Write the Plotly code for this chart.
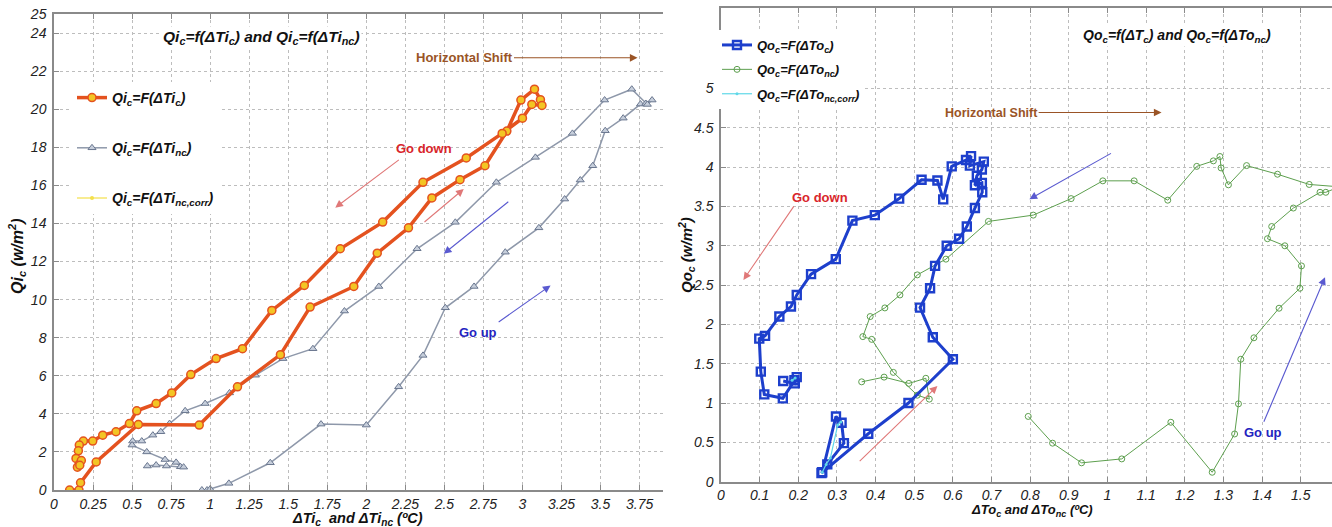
import plotly.graph_objects as go

# ---------------- Left panel data (Qi_c vs dTi) ----------------
dTi_c = [0.10, 0.16, 0.17, 0.27, 0.54, 0.93, 1.175, 1.45, 1.64, 1.92, 2.07, 2.27, 2.42, 2.60, 2.76, 2.90,
         2.99, 3.077, 3.115, 3.125, 3.06, 3.00, 2.87, 2.64, 2.363, 2.105, 1.833, 1.603, 1.395, 1.207, 1.038,
         0.876, 0.754, 0.654, 0.53, 0.483, 0.397, 0.312, 0.248, 0.188, 0.162, 0.156, 0.141, 0.162, 0.175,
         0.15, 0.165]
Qi_c = [0.0, 0.0, 0.38, 1.47, 3.44, 3.41, 5.42, 7.11, 9.61, 10.69, 12.44, 13.77, 15.34, 16.30, 17.03, 18.85,
        20.48, 21.05, 20.50, 20.20, 20.25, 19.53, 18.73, 17.44, 16.16, 14.07, 12.67, 10.74, 9.43, 7.42, 6.90,
        6.06, 5.10, 4.54, 4.16, 3.49, 3.06, 2.88, 2.57, 2.57, 2.36, 2.06, 1.66, 1.35, 1.55, 1.20, 1.30]

dTi_nc = [0.947, 0.98, 1.0, 1.12, 1.385, 1.71, 2.0, 2.207, 2.363, 2.506, 2.69, 2.89, 3.105, 3.27, 3.37, 3.45,
          3.53, 3.645, 3.756, 3.79, 3.83, 3.80, 3.70, 3.526, 3.32, 3.083, 2.833, 2.57, 2.325, 2.08, 1.86,
          1.658, 1.466, 1.29, 1.124, 0.968, 0.84, 0.74, 0.684, 0.633, 0.562, 0.504, 0.50, 0.594, 0.711,
          0.782, 0.81, 0.83, 0.72, 0.654, 0.598]
Qi_nc = [0.0, 0.0, 0.05, 0.35, 1.43, 3.46, 3.41, 5.42, 7.07, 9.57, 10.69, 12.49, 13.77, 15.28, 16.28, 17.03,
         18.87, 19.53, 20.27, 20.30, 20.48, 20.25, 21.05, 20.48, 18.73, 17.47, 16.16, 14.06, 12.67, 10.69, 9.40,
         7.42, 6.90, 6.03, 5.10, 4.54, 4.16, 3.49, 3.06, 2.88, 2.57, 2.57, 2.36, 2.00, 1.60,
         1.45, 1.22, 1.20, 1.26, 1.31, 1.26]

# corrected series coincides with the dTi_c curve
dTi_nc_corr = dTi_c
Qi_nc_corr = Qi_c

# ---------------- Right panel data (Qo_c vs dTo) ----------------
dTo_c = [0.262, 0.2975, 0.312, 0.318, 0.275, 0.26, 0.381, 0.485, 0.60, 0.548, 0.515, 0.541, 0.554, 0.584,
         0.616, 0.636, 0.657, 0.676, 0.675, 0.657, 0.662, 0.675, 0.68, 0.644, 0.647, 0.634, 0.597, 0.575,
         0.56, 0.519, 0.461, 0.398, 0.34, 0.297, 0.233, 0.196, 0.181, 0.151, 0.114, 0.099, 0.103, 0.112,
         0.16, 0.19, 0.196, 0.191, 0.161]
Qo_c = [0.12, 0.83, 0.75, 0.49, 0.22, 0.11, 0.61, 1.0, 1.557, 1.837, 2.214, 2.46, 2.744, 3.0,
        3.09, 3.245, 3.48, 3.68, 3.80, 3.77, 3.89, 3.97, 4.07, 4.02, 4.14, 4.09, 4.01, 3.59,
        3.83, 3.84, 3.60, 3.39, 3.32, 2.83, 2.64, 2.375, 2.227, 2.10, 1.855, 1.82, 1.40, 1.11,
        1.06, 1.29, 1.33, 1.25, 1.28]

dTo_nc = [0.795, 0.858, 0.933, 1.037, 1.164, 1.271, 1.329, 1.339, 1.345, 1.379, 1.444, 1.498, 1.502, 1.459,
          1.414, 1.425, 1.481, 1.55, 1.565, 1.60, 1.522, 1.44, 1.36, 1.313, 1.294, 1.291, 1.274, 1.231,
          1.156, 1.069, 0.988, 0.906, 0.808, 0.692, 0.582, 0.508, 0.463, 0.424, 0.386, 0.367, 0.39, 0.446,
          0.508, 0.539, 0.53, 0.486, 0.422, 0.364]
Qo_nc = [0.83, 0.49, 0.24, 0.29, 0.756, 0.12, 0.607, 0.99, 1.557, 1.83, 2.206, 2.46, 2.744, 3.0,
         3.09, 3.245, 3.48, 3.68, 3.68, 3.75, 3.78, 3.91, 4.02, 3.775, 3.99, 4.135, 4.08, 4.01,
         3.58, 3.826, 3.826, 3.60, 3.39, 3.31, 2.83, 2.63, 2.375, 2.21, 2.10, 1.845, 1.81, 1.39,
         1.10, 1.05, 1.315, 1.25, 1.33, 1.27]

dTo_nc_corr = [0.262, 0.272, 0.283, 0.302, 0.31, None, 0.184, 0.192]
Qo_nc_corr = [0.12, 0.22, 0.30, 0.72, 0.76, None, 1.29, 1.32]

# ---------------- Ticks ----------------
left_xticks = [0, 0.25, 0.5, 0.75, 1, 1.25, 1.5, 1.75, 2, 2.25, 2.5, 2.75, 3, 3.25, 3.5, 3.75]
left_xtext = ["0", "0.25", "0.5", "0.75", "1", "1.25", "1.5", "1.75", "2", "2.25", "2.5", "2.75", "3",
              "3.25", "3.5", "3.75"]
left_yticks = [0, 2, 4, 6, 8, 10, 12, 14, 16, 18, 20, 22, 24, 25]
right_xticks = [0, 0.1, 0.2, 0.3, 0.4, 0.5, 0.6, 0.7, 0.8, 0.9, 1, 1.1, 1.2, 1.3, 1.4, 1.5]
right_xtext = ["0", "0.1", "0.2", "0.3", "0.4", "0.5", "0.6", "0.7", "0.8", "0.9", "1", "1.1", "1.2",
               "1.3", "1.4", "1.5"]
right_yticks = [0, 0.5, 1, 1.5, 2, 2.5, 3, 3.5, 4, 4.5, 5]
right_ytext = ["0", "0.5", "1", "1.5", "2", "2.5", "3", "3.5", "4", "4.5", "5"]

W, H = 1332, 527
FONT = "Liberation Sans"
NARROW = "Liberation Sans Narrow, Liberation Sans"


def pxx(p):
    return p / W


def pxy(p):
    return (H - p) / H


fig = go.Figure()

# Left panel traces
fig.add_trace(go.Scatter(
    x=dTi_nc_corr, y=Qi_nc_corr, mode="lines+markers", xaxis="x", yaxis="y",
    name="<b><i>Qi<sub>c</sub>=F(ΔTi<sub>nc,corr</sub>)</i></b>",
    line=dict(color="#f4e04a", width=1.2), marker=dict(symbol="circle", size=4, color="#f4e04a"),
    legend="legend", legendgroup="l3", legendrank=3))
fig.add_trace(go.Scatter(
    x=dTi_nc, y=Qi_nc, mode="lines+markers", xaxis="x", yaxis="y",
    name="<b><i>Qi<sub>c</sub>=F(ΔTi<sub>nc</sub>)</i></b>",
    line=dict(color="#8e98aa", width=1.5),
    marker=dict(symbol="triangle-up", size=7, color="#c6cedb", line=dict(color="#6a778f", width=1)),
    legend="legend", legendgroup="l2", legendrank=2))
fig.add_trace(go.Scatter(
    x=dTi_c, y=Qi_c, mode="lines+markers", xaxis="x", yaxis="y",
    name="<b><i>Qi<sub>c</sub>=F(ΔTi<sub>c</sub>)</i></b>",
    line=dict(color="#e4521f", width=3.5),
    marker=dict(symbol="circle", size=8, color="#f3c524", line=dict(color="#e4521f", width=1.5)),
    legend="legend", legendgroup="l1", legendrank=1))

# Right panel traces
fig.add_trace(go.Scatter(
    x=dTo_nc, y=Qo_nc, mode="lines+markers", xaxis="x2", yaxis="y2",
    name="<b><i>Qo<sub>c</sub>=F(ΔTo<sub>nc</sub>)</i></b>",
    line=dict(color="#5d9f4e", width=1),
    marker=dict(symbol="circle-open", size=6, color="#5d9f4e", line=dict(width=1)),
    legend="legend2", legendgroup="r2", legendrank=2))
fig.add_trace(go.Scatter(
    x=dTo_c, y=Qo_c, mode="lines+markers", xaxis="x2", yaxis="y2",
    name="<b><i>Qo<sub>c</sub>=F(ΔTo<sub>c</sub>)</i></b>",
    line=dict(color="#1d3fcc", width=3),
    marker=dict(symbol="square-open", size=8, color="#1d3fcc", line=dict(width=2.4)),
    legend="legend2", legendgroup="r1", legendrank=1))
fig.add_trace(go.Scatter(
    x=dTo_nc_corr, y=Qo_nc_corr, mode="lines+markers", xaxis="x2", yaxis="y2",
    name="<b><i>Qo<sub>c</sub>=F(ΔTo<sub>nc,corr</sub>)</i></b>",
    line=dict(color="#5fd8e8", width=1.2), marker=dict(symbol="circle", size=3, color="#5fd8e8"),
    legend="legend2", legendgroup="r3", legendrank=3))

axis_common = dict(
    showgrid=True, gridcolor="#bdbdbd", griddash="dot", gridwidth=1,
    showline=True, linecolor="#8a8a8a", linewidth=1.5,
    ticks="inside", ticklen=5, tickcolor="#8a8a8a",
    tickfont=dict(family=FONT, size=14, color="#222", style="italic"),
    zeroline=False, automargin=False,
)

fig.update_layout(
    template="none",
    width=W, height=H, margin=dict(l=0, r=0, t=0, b=0, pad=0, autoexpand=False),
    paper_bgcolor="white", plot_bgcolor="white",
    xaxis=dict(domain=[pxx(54), pxx(663)], range=[0, 3.9], tickvals=left_xticks, ticktext=left_xtext,
               anchor="y", mirror="ticks", ticklabelstandoff=0, **axis_common),
    yaxis=dict(domain=[pxy(490), pxy(14)], range=[0, 25], tickvals=left_yticks,
               ticktext=[str(v) for v in left_yticks], anchor="x", ticklabelstandoff=3, **axis_common),
    xaxis2=dict(domain=[pxx(721), 1.0], range=[0, 1.581], tickvals=right_xticks, ticktext=right_xtext,
                anchor="y2", mirror="ticks", ticklabelstandoff=0, **axis_common),
    yaxis2=dict(domain=[pxy(481.7), pxy(8.3)], range=[0, 6.02], tickvals=right_yticks,
                ticktext=right_ytext, anchor="x2", ticklabelstandoff=3, **axis_common),
    legend=dict(x=pxx(72), y=pxy(82), xanchor="left", yanchor="top", bgcolor="white", borderwidth=0,
                traceorder="grouped", tracegroupgap=29, itemwidth=30,
                font=dict(family=NARROW, size=14, color="#111")),
    legend2=dict(x=pxx(717), y=pxy(30), xanchor="left", yanchor="top", bgcolor="white", borderwidth=0,
                 traceorder="grouped", tracegroupgap=4.5, itemwidth=30,
                 font=dict(family=FONT, size=13, color="#111")),
    showlegend=True,
)

ann = []
# Titles
ann.append(dict(xref="x", yref="y", x=1.33, y=23.75, showarrow=False, bgcolor="white",
                xanchor="center", yanchor="middle",
                text="<b><i>Qi<sub>c</sub>=f(ΔTi<sub>c</sub>) and Qi<sub>c</sub>=f(ΔTi<sub>nc</sub>)</i></b>",
                font=dict(family=FONT, size=15.5, color="#111")))
ann.append(dict(xref="x2", yref="y2", x=1.18, y=5.67, showarrow=False, bgcolor="white",
                xanchor="center", yanchor="middle",
                text="<b><i>Qo<sub>c</sub>=f(ΔT<sub>c</sub>) and Qo<sub>c</sub>=f(ΔTo<sub>nc</sub>)</i></b>",
                font=dict(family=FONT, size=14, color="#111")))
# Axis titles
ann.append(dict(xref="paper", yref="paper", x=pxx(17), y=pxy(256), showarrow=False, textangle=-90,
                xanchor="center", yanchor="middle",
                text="<b><i>Qi<sub>c</sub> (w/m<sup>2</sup>)</i></b>", font=dict(family=FONT, size=16, color="#111")))
ann.append(dict(xref="paper", yref="paper", x=pxx(686), y=pxy(255), showarrow=False, textangle=-90,
                xanchor="center", yanchor="middle",
                text="<b><i>Qo<sub>c</sub> (w/m<sup>2</sup>)</i></b>", font=dict(family=FONT, size=15, color="#111")))
ann.append(dict(xref="paper", yref="paper", x=pxx(357), y=pxy(519), showarrow=False,
                xanchor="center", yanchor="middle",
                text="<b><i>ΔTi<sub>c</sub>  and ΔTi<sub>nc</sub> (ºC)</i></b>", font=dict(family=FONT, size=14.5, color="#111")))
ann.append(dict(xref="paper", yref="paper", x=pxx(1032), y=pxy(510), showarrow=False,
                xanchor="center", yanchor="middle",
                text="<b><i>ΔTo<sub>c</sub> and ΔTo<sub>nc</sub> (ºC)</i></b>", font=dict(family=FONT, size=13, color="#111")))

BROWN = "#9a5426"
RED = "#d9262b"
PINK = "#e07878"
BLUE = "#2424c0"
BLUEL = "#5a5ad0"


def text_ann(xr, yr, x, y, t, c, s=13):
    return dict(xref=xr, yref=yr, x=x, y=y, showarrow=False, text="<b>" + t + "</b>",
                xanchor="center", yanchor="middle",
                font=dict(family=FONT, size=s, color=c))


def arrow_ann(xr, yr, x0, y0, x1, y1, c):
    return dict(xref=xr, yref=yr, axref=xr, ayref=yr, x=x1, y=y1, ax=x0, ay=y0, text="",
                showarrow=True, arrowhead=2, arrowsize=1.4, arrowwidth=1.1, arrowcolor=c)


# Left annotations
ann.append(text_ann("x", "y", 2.63, 22.7, "Horizontal Shift", BROWN))
ann.append(arrow_ann("x", "y", 2.936, 22.7, 3.737, 22.7, BROWN))
ann.append(text_ann("x", "y", 2.37, 17.92, "Go down", RED))
ann.append(arrow_ann("x", "y", 2.218, 17.4, 1.801, 14.83, PINK))
ann.append(arrow_ann("x", "y", 2.363, 14.01, 2.624, 15.81, PINK))
ann.append(arrow_ann("x", "y", 2.919, 15.2, 2.496, 12.41, BLUEL))
ann.append(text_ann("x", "y", 2.718, 8.28, "Go up", BLUE))
ann.append(arrow_ann("x", "y", 2.838, 8.77, 3.18, 10.74, BLUEL))

# Right annotations
ann.append(text_ann("x2", "y2", 0.699, 4.69, "Horizontal Shift", BROWN, 12.5))
ann.append(arrow_ann("x2", "y2", 0.818, 4.695, 1.14, 4.695, BROWN))
ann.append(text_ann("x2", "y2", 0.256, 3.62, "Go down", RED))
ann.append(arrow_ann("x2", "y2", 0.191, 3.52, 0.058, 2.566, PINK))
ann.append(arrow_ann("x2", "y2", 0.355, 0.242, 0.56, 1.218, PINK))
ann.append(arrow_ann("x2", "y2", 1.013, 4.186, 0.798, 3.593, BLUEL))
ann.append(text_ann("x2", "y2", 1.402, 0.62, "Go up", BLUE))
ann.append(arrow_ann("x2", "y2", 1.403, 0.743, 1.563, 2.6, BLUEL))

fig.update_layout(annotations=ann)
fig.write_html("out.html")
